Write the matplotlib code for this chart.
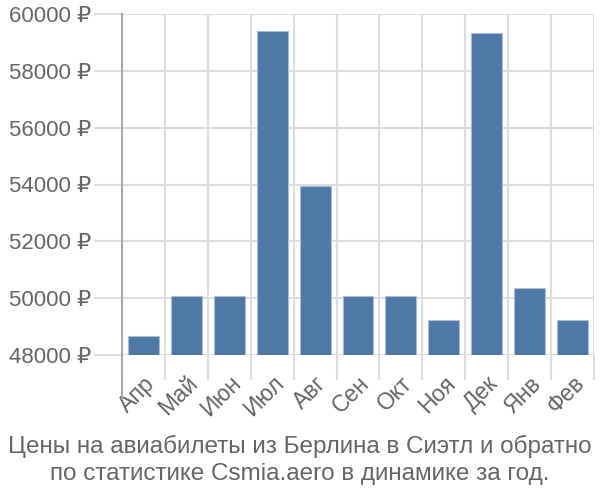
import numpy as np
import matplotlib
matplotlib.use("Agg")
import matplotlib.pyplot as plt

plt.rcParams['font.family'] = ['Liberation Sans', 'DejaVu Sans']

# Data
months = ["Апр", "Май", "Июн", "Июл", "Авг", "Сен", "Окт", "Ноя", "Дек", "Янв", "Фев"]
prices = [48670, 50080, 50080, 59400, 53950, 50080, 50080, 49235, 59320, 50360, 49235]
yticks = [48000, 50000, 52000, 54000, 56000, 58000, 60000]
title = "Цены на авиабилеты из Берлина в Сиэтл и обратно\nпо статистике Csmia.aero в динамике за год."

text_col = "#666666"
grid_col = "#dddddd"

fig = plt.figure(figsize=(6, 5), dpi=100)
ax = fig.add_axes([122 / 600, 1 - 355 / 500, (594 - 122) / 600, (355 - 14) / 500])

x = np.arange(len(months))
ax.bar(x, prices, width=0.72, color="#4e79a7", edgecolor="#a9bcd3", linewidth=0.8,
       zorder=3)
ax.set_xlim(-0.5, len(months) - 0.5)
ax.set_ylim(48000, 60000)

ax.set_yticks(yticks)
ax.set_yticklabels([f"{v} ₽" for v in yticks], fontsize=16, color=text_col)
ax.tick_params(axis="y", length=20, color=grid_col, width=1.5, pad=2)

ax.set_xticks(x)
ax.set_xticklabels(months, rotation=45, ha="right", rotation_mode="anchor",
                   fontsize=16.5, color=text_col)
ax.tick_params(axis="x", which="major", length=0, pad=12)
ax.set_xticks(np.arange(-0.5, len(months)), minor=True)
ax.tick_params(axis="x", which="minor", length=18, color=grid_col, width=1.5)

ax.grid(axis="y", color=grid_col, linewidth=1.5, zorder=0)
ax.grid(axis="x", which="minor", color=grid_col, linewidth=1.5, zorder=0)

for s in ["top", "right", "bottom"]:
    ax.spines[s].set_visible(False)
ax.spines["left"].set_color("#aaaaaa")
ax.spines["left"].set_linewidth(1.5)
ax.spines["left"].set_bounds(46500, 60000)

fig.text(0.5, 1 - 460 / 500, title, ha="center", va="center", fontsize=17.5,
         color=text_col, linespacing=1.28)

fig.savefig("out.png", dpi=100)
